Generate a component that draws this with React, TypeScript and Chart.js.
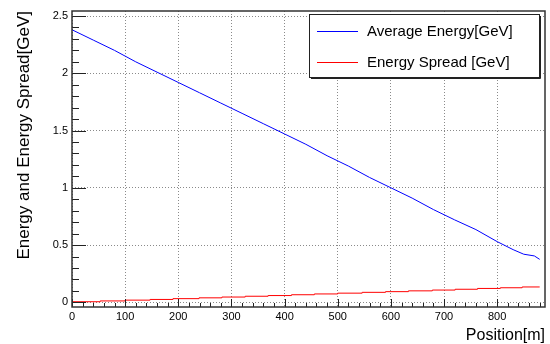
import React, { useEffect, useRef } from "react";
import { Chart, registerables } from "chart.js";

Chart.register(...registerables);

// ---- data ----
const energyPositions = [0, 40, 80, 120, 160, 200, 240, 280, 320, 360, 400, 440, 480, 520, 560, 600, 640, 680, 720, 760, 800, 830, 850, 870, 880];
const averageEnergy = [2.38, 2.29, 2.2, 2.1, 2.01, 1.92, 1.83, 1.74, 1.65, 1.56, 1.47, 1.38, 1.28, 1.19, 1.09, 1.0, 0.91, 0.81, 0.72, 0.635, 0.53, 0.46, 0.42, 0.405, 0.375];

const spreadPositions = [0, 53, 100, 147, 190, 239, 282, 326, 369, 413, 456, 500, 546, 590, 633, 678, 721, 763, 806, 847, 880];
const energySpread = [0.005, 0.012, 0.019, 0.025, 0.032, 0.039, 0.046, 0.053, 0.059, 0.066, 0.073, 0.08, 0.087, 0.093, 0.1, 0.107, 0.114, 0.121, 0.127, 0.134, 0.134];

const seriesLabels = ["Average Energy[GeV]", "Energy Spread [GeV]"];
const xTickValues = [0, 100, 200, 300, 400, 500, 600, 700, 800];
const xTickLabels = ["0", "100", "200", "300", "400", "500", "600", "700", "800"];
const yTickValues = [0, 0.5, 1, 1.5, 2, 2.5];
const yTickLabels = ["0", "0.5", "1", "1.5", "2", "2.5"];
const xTitle = "Position[m]";
const yTitle = "Energy and Energy Spread[GeV]";

const FONT = "'Liberation Sans', Arial, Helvetica, sans-serif";

const framePlugin = {
  id: "rootFrame",
  afterDraw(chart: any) {
    const ctx = chart.ctx;
    const { left, right, top, bottom } = chart.chartArea;
    const xs = chart.scales.x;
    const ys = chart.scales.y;
    ctx.save();
    // ticks
    ctx.strokeStyle = "#222";
    ctx.lineWidth = 1;
    ctx.beginPath();
    for (let v = 0; v <= 880.001; v += 20) {
      const px = Math.round(xs.getPixelForValue(v)) + 0.5;
      const major = xTickValues.includes(Math.round(v));
      ctx.moveTo(px, bottom);
      ctx.lineTo(px, bottom - (major ? 8 : 4));
    }
    for (let i = 0; i <= 25; i++) {
      const v = i / 10;
      const py = Math.round(ys.getPixelForValue(v)) + 0.5;
      const major = i % 5 === 0;
      ctx.moveTo(left, py);
      ctx.lineTo(left + (major ? 14 : 7), py);
    }
    ctx.stroke();
    // frame
    ctx.strokeStyle = "#333";
    ctx.lineWidth = 1.5;
    ctx.strokeRect(left, top, right - left, bottom - top);

    // legend
    const lx = 309, ly = 14, lw = 230, lh = 63;
    ctx.fillStyle = "#fff";
    ctx.fillRect(lx, ly, lw, lh);
    ctx.strokeStyle = "#222";
    ctx.lineWidth = 1;
    ctx.strokeRect(lx + 0.5, ly + 0.5, lw, lh);
    ctx.beginPath();
    ctx.moveTo(lx + lw + 1.5, ly + 2);
    ctx.lineTo(lx + lw + 1.5, ly + lh + 1.5);
    ctx.lineTo(lx + 2, ly + lh + 1.5);
    ctx.stroke();
    const rows = [31, 62];
    chart.data.datasets.forEach((ds: any, i: number) => {
      const y = rows[i];
      ctx.strokeStyle = ds.borderColor;
      ctx.lineWidth = 1;
      ctx.beginPath();
      ctx.moveTo(317, y + 0.5);
      ctx.lineTo(358, y + 0.5);
      ctx.stroke();
      ctx.fillStyle = "#000";
      ctx.font = `15px ${FONT}`;
      ctx.textBaseline = "middle";
      ctx.textAlign = "left";
      ctx.fillText(ds.label, 367, y + 1);
    });
    ctx.restore();
  },
};

export default function App() {
  const ref = useRef<HTMLCanvasElement | null>(null);
  useEffect(() => {
    if (!ref.current) return;
    const chart = new Chart(ref.current, {
      type: "line",
      data: {
        datasets: [
          {
            label: seriesLabels[0],
            data: energyPositions.map((x, i) => ({ x, y: averageEnergy[i] })),
            borderColor: "#0000ff",
            borderWidth: 1,
            pointRadius: 0,
            fill: false,
            tension: 0,
          },
          {
            label: seriesLabels[1],
            data: spreadPositions.map((x, i) => ({ x, y: energySpread[i] })),
            borderColor: "#ff0000",
            borderWidth: 1,
            pointRadius: 0,
            fill: false,
            stepped: "before",
          },
        ],
      },
      options: {
        animation: false,
        responsive: true,
        maintainAspectRatio: false,
        layout: { padding: { top: 11, right: 5, left: 0, bottom: 0 } },
        plugins: { legend: { display: false }, tooltip: { enabled: false } },
        scales: {
          x: {
            type: "linear",
            min: 0,
            max: 890,
            afterBuildTicks: (s: any) => {
              s.ticks = xTickValues.map((v) => ({ value: v }));
            },
            afterFit: (s: any) => {
              s.height = 37;
            },
            ticks: {
              padding: 3,
              color: "#000",
              font: { family: FONT, size: 11 },
              callback: (v: any) => xTickLabels[xTickValues.indexOf(v)] ?? "",
              maxRotation: 0,
            },
            grid: { color: "#8a8a8a", drawTicks: false, lineWidth: 1 },
            border: { display: false, dash: [1, 2] },
            title: {
              display: true,
              text: xTitle,
              align: "end",
              color: "#000",
              font: { family: FONT, size: 16 },
              padding: { top: 0, bottom: -1 },
            },
          },
          y: {
            type: "linear",
            min: -0.041,
            max: 2.544,
            afterBuildTicks: (s: any) => {
              s.ticks = yTickValues.map((v) => ({ value: v }));
            },
            afterFit: (s: any) => {
              s.width = 72;
            },
            ticks: {
              padding: 4,
              color: "#000",
              font: { family: FONT, size: 11 },
              callback: (v: any) => yTickLabels[yTickValues.indexOf(v)] ?? "",
            },
            grid: { color: "#8a8a8a", drawTicks: false, lineWidth: 1 },
            border: { display: false, dash: [1, 2] },
            title: {
              display: true,
              text: yTitle,
              align: "end",
              color: "#000",
              font: { family: FONT, size: 17 },
              padding: { top: 14, bottom: 0 },
            },
          },
        },
      } as any,
      plugins: [framePlugin],
    });
    return () => chart.destroy();
  }, []);
  return (
    <div style={{ position: "fixed", left: 0, top: 0, width: 550, height: 344, background: "#fff" }}>
      <canvas ref={ref} />
    </div>
  );
}
